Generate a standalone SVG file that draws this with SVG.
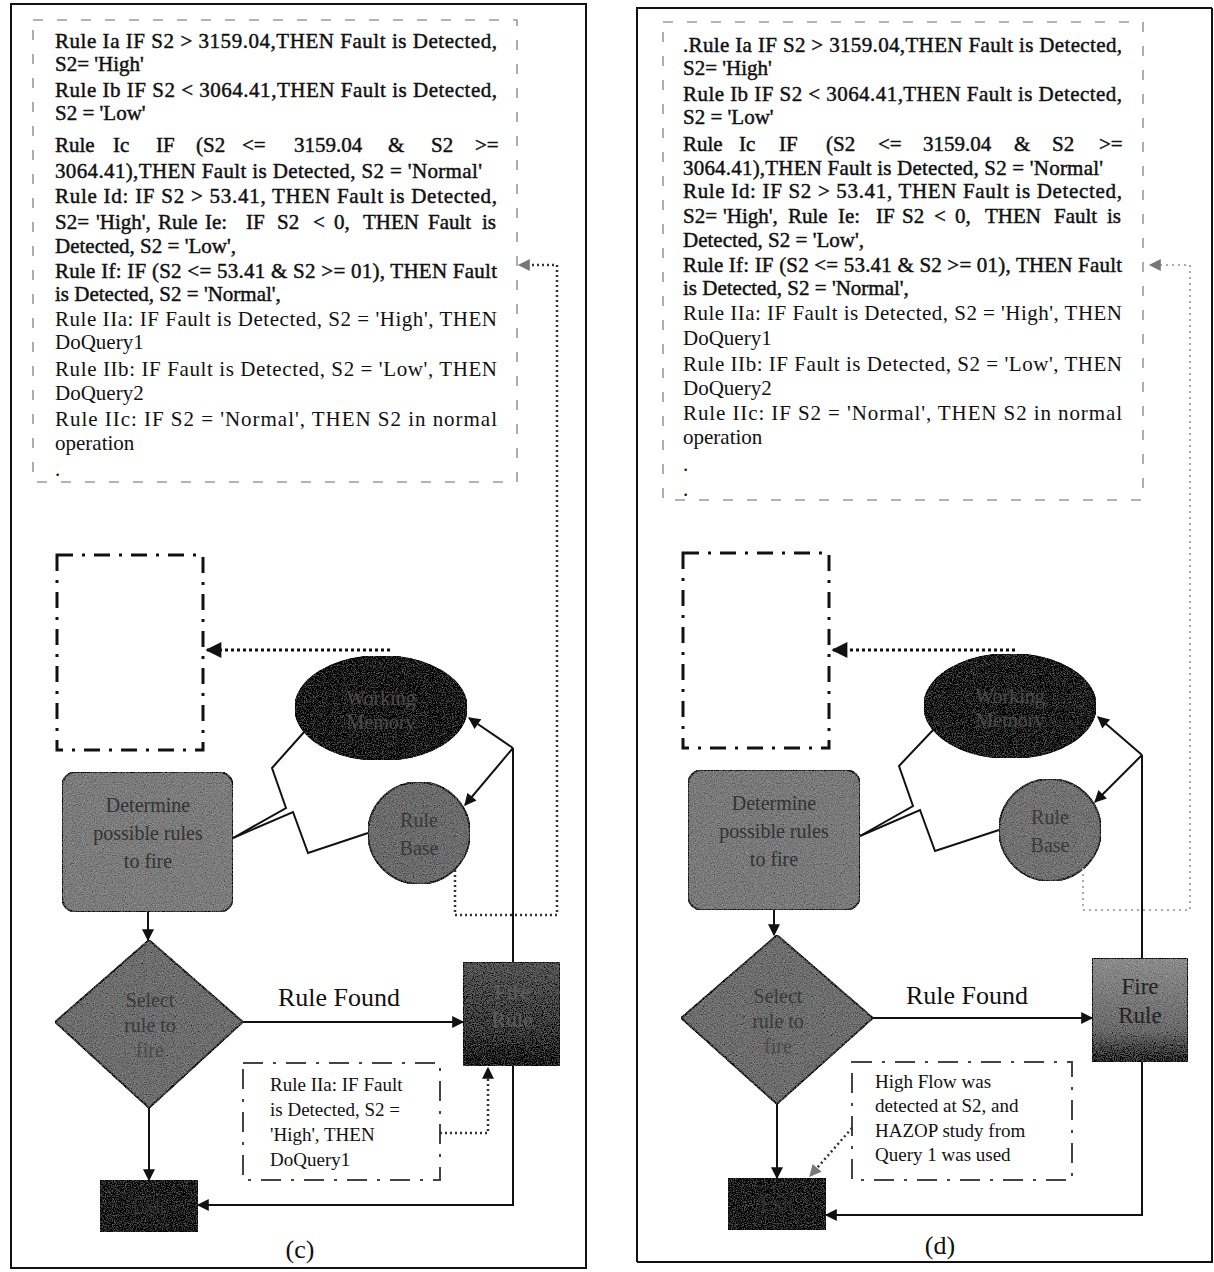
<svg xmlns="http://www.w3.org/2000/svg" width="1214" height="1272" viewBox="0 0 1214 1272">
<style>
.bg{fill:#ffffff}
.frame{fill:none;stroke:#111;stroke-width:2}
.tbox{fill:none;stroke:#9a9a9a;stroke-width:1.6;stroke-dasharray:10 14}
.rt{font-family:"Liberation Serif","Times New Roman",serif;font-size:21px;fill:#111}
.b{stroke:#111;stroke-width:0.45}
.ddbox{fill:none;stroke:#111;stroke-width:3;stroke-dasharray:16 9 3 9}
.cbox{fill:none;stroke:#444;stroke-width:2;stroke-dasharray:20 10 3 10}
.ct{font-family:"Liberation Serif","Times New Roman",serif;font-size:19px;fill:#111}
.lbl{font-family:"Liberation Serif","Times New Roman",serif;font-size:26px;fill:#111;text-anchor:middle}
.nt{font-family:"Liberation Serif","Times New Roman",serif;font-size:20px;text-anchor:middle}
.ln{fill:none;stroke:#111;stroke-width:2}
.dot{fill:none;stroke:#111;stroke-width:3;stroke-dasharray:3 3}
.dotg{fill:none;stroke:#333;stroke-width:2.5;stroke-dasharray:2 3}
.dotl{fill:none;stroke:#aaa;stroke-width:2;stroke-dasharray:2 4}
</style>
<defs>
<marker id="ah" viewBox="0 0 10 10" refX="9" refY="5" markerWidth="14" markerHeight="12" markerUnits="userSpaceOnUse" orient="auto"><path d="M0,0 L10,5 L0,10 z" fill="#111"/></marker>
<marker id="ahb" viewBox="0 0 10 10" refX="9" refY="5" markerWidth="20" markerHeight="16" markerUnits="userSpaceOnUse" orient="auto"><path d="M0,0 L10,5 L0,10 z" fill="#111"/></marker>
<marker id="ahg" viewBox="0 0 10 10" refX="9" refY="5" markerWidth="14" markerHeight="12" markerUnits="userSpaceOnUse" orient="auto"><path d="M0,0 L10,5 L0,10 z" fill="#777"/></marker>
<linearGradient id="fireC" x1="0" y1="0" x2="0" y2="1"><stop offset="0" stop-color="#555"/><stop offset="0.7" stop-color="#3a3a3a"/><stop offset="1" stop-color="#151515"/></linearGradient>
<linearGradient id="fireD" x1="0" y1="0" x2="0" y2="1"><stop offset="0" stop-color="#8c8c8c"/><stop offset="0.7" stop-color="#6a6a6a"/><stop offset="1" stop-color="#2a2a2a"/></linearGradient>
<filter id="grain" x="0" y="0" width="100%" height="100%">
<feTurbulence type="fractalNoise" baseFrequency="0.9" numOctaves="2" seed="4" result="n"/>
<feColorMatrix in="n" type="matrix" values="0.33 0.33 0.33 0 0 0.33 0.33 0.33 0 0 0.33 0.33 0.33 0 0 0 0 0 0 1" result="g"/>
<feComposite in="SourceGraphic" in2="g" operator="arithmetic" k1="0" k2="1" k3="0.6" k4="-0.3" result="m"/>
<feComposite in="m" in2="SourceAlpha" operator="in"/>
</filter>
</defs>
<rect class="bg" x="0" y="0" width="1214" height="1272"/>

<g id="frames">
<rect class="frame" x="11" y="4" width="575" height="1264"/>
<path class="frame" d="M637,1262 L637,8 L1212,8 M637,1262 L1212,1262 L1212,8"/>
</g>

<!-- ===== Panel (c) ===== -->
<g id="rules-c">
<rect class="tbox" x="33" y="20" width="484" height="462"/>
<text class="rt b" x="55" y="48" textLength="442" lengthAdjust="spacing">Rule Ia IF S2 &gt; 3159.04,THEN Fault is Detected,</text>
<text class="rt b" x="55" y="71">S2= 'High'</text>
<text class="rt b" x="55" y="97" textLength="442" lengthAdjust="spacing">Rule Ib IF S2 &lt; 3064.41,THEN Fault is Detected,</text>
<text class="rt b" x="55" y="120">S2 = 'Low'</text>
<text class="rt b"><tspan x="55" y="152">Rule</tspan><tspan x="113" y="152">Ic</tspan><tspan x="156" y="152">IF</tspan><tspan x="196" y="152">(S2</tspan><tspan x="242" y="152">&lt;=</tspan><tspan x="294" y="152">3159.04</tspan><tspan x="388" y="152">&amp;</tspan><tspan x="431" y="152">S2</tspan><tspan x="475" y="152">&gt;=</tspan></text>
<text class="rt b" x="55" y="178" textLength="427" lengthAdjust="spacing">3064.41),THEN Fault is Detected, S2 = 'Normal'</text>
<text class="rt b" x="55" y="203" textLength="442" lengthAdjust="spacing">Rule Id:  IF S2 &gt; 53.41, THEN Fault is Detected,</text>
<text class="rt b"><tspan x="55" y="229">S2=</tspan><tspan x="96" y="229">'High',</tspan><tspan x="158" y="229">Rule</tspan><tspan x="205" y="229">Ie:</tspan><tspan x="246" y="229">IF</tspan><tspan x="277" y="229">S2</tspan><tspan x="313" y="229">&lt;</tspan><tspan x="334" y="229">0,</tspan><tspan x="363" y="229">THEN</tspan><tspan x="428" y="229">Fault</tspan><tspan x="482" y="229">is</tspan></text>
<text class="rt b" x="55" y="253">Detected, S2 = 'Low',</text>
<text class="rt b" x="55" y="278" textLength="442" lengthAdjust="spacing">Rule If: IF (S2 &lt;= 53.41 &amp; S2 &gt;= 01), THEN Fault</text>
<text class="rt b" x="55" y="301">is Detected, S2 = 'Normal',</text>
<text class="rt" x="55" y="326" textLength="442" lengthAdjust="spacing">Rule IIa: IF Fault is Detected, S2 = 'High', THEN</text>
<text class="rt" x="55" y="349">DoQuery1</text>
<text class="rt" x="55" y="376" textLength="442" lengthAdjust="spacing">Rule IIb: IF Fault is Detected, S2 = 'Low', THEN</text>
<text class="rt" x="55" y="400">DoQuery2</text>
<text class="rt" x="55" y="426" textLength="442" lengthAdjust="spacing">Rule IIc: IF S2  = 'Normal', THEN S2 in normal</text>
<text class="rt" x="55" y="450">operation</text>
<text class="rt" x="55" y="476">.</text>
</g>

<g id="memory-box-c"><rect class="ddbox" x="57" y="555" width="146" height="195"/></g>

<g id="working-memory-c">
<ellipse cx="381" cy="708" rx="86" ry="52" fill="#161616" stroke="#000" stroke-width="2" filter="url(#grain)"/>
<text class="nt" x="381" y="705" fill="#4a4a4a">Working</text>
<text class="nt" x="381" y="729" fill="#4a4a4a">Memory</text>
</g>

<g id="rule-base-c">
<circle cx="419" cy="833" r="51" fill="#6c6c6c" stroke="#333" stroke-width="2" filter="url(#grain)"/>
<text class="nt" x="419" y="827" fill="#3a3a3a">Rule</text>
<text class="nt" x="419" y="855" fill="#3a3a3a">Base</text>
</g>

<g id="determine-c">
<rect x="62" y="772" width="171" height="140" rx="14" fill="#7c7c7c" stroke="#333" stroke-width="2" filter="url(#grain)"/>
<text class="nt" x="148" y="812" fill="#333">Determine</text>
<text class="nt" x="148" y="840" fill="#333">possible rules</text>
<text class="nt" x="148" y="868" fill="#333">to fire</text>
</g>

<g id="select-c">
<path d="M149,940 L243,1022 L149,1108 L55,1022 Z" fill="#6e6e6e" stroke="#333" stroke-width="2" filter="url(#grain)"/>
<text class="nt" x="150" y="1007" fill="#3a3a3a">Select</text>
<text class="nt" x="150" y="1032" fill="#3a3a3a">rule to</text>
<text class="nt" x="150" y="1057" fill="#4a4a4a">fire</text>
</g>

<g id="fire-c">
<rect x="463" y="962" width="97" height="104" fill="url(#fireC)" stroke="#222" stroke-width="2" filter="url(#grain)"/>
<text class="nt" x="512" y="999" fill="#5c5c5c" style="font-size:22px">Fire</text>
<text class="nt" x="512" y="1027" fill="#5c5c5c" style="font-size:22px">Rule</text>
</g>

<g id="exit-c">
<rect x="100" y="1180" width="98" height="52" fill="#1e1e1e" stroke="#111" stroke-width="2" filter="url(#grain)"/>
<text class="nt" x="149" y="1213" fill="#333">Exit</text>
</g>

<g id="callout-c">
<rect class="cbox" x="243" y="1063" width="197" height="117"/>
<text class="ct" x="270" y="1091">Rule IIa: IF Fault</text>
<text class="ct" x="270" y="1116">is Detected, S2 =</text>
<text class="ct" x="270" y="1141">'High', THEN</text>
<text class="ct" x="270" y="1166">DoQuery1</text>
</g>

<text class="lbl" x="339" y="1006">Rule Found</text>
<text class="lbl" x="300" y="1258">(c)</text>

<g id="connectors-c">
<line class="dot" x1="390" y1="650" x2="207" y2="650" marker-end="url(#ahb)"/>
<path class="ln" d="M233,838 L286,808 L272,768 L305,731"/>
<path class="ln" d="M233,838 L293,812 L308,853 L368,833"/>
<path class="ln" d="M513,962 L513,748"/>
<path class="ln" d="M513,748 L469,718" marker-end="url(#ah)"/>
<path class="ln" d="M513,748 L465,805" marker-end="url(#ah)"/>
<path class="ln" d="M148,912 L148,940" marker-end="url(#ah)"/>
<path class="ln" d="M243,1022 L463,1022" marker-end="url(#ah)"/>
<path class="ln" d="M149,1108 L149,1180" marker-end="url(#ah)"/>
<path class="ln" d="M513,1066 L513,1205 L198,1205" marker-end="url(#ah)"/>
<path class="dotg" d="M440,1133 L488,1133 L488,1068" marker-end="url(#ah)"/>
<path class="dotg" d="M455,870 L455,915 L557,915 L557,265 L519,265" marker-end="url(#ahg)"/>
</g>

<!-- ===== Panel (d) ===== -->
<g id="rules-d">
<rect class="tbox" x="663" y="22" width="480" height="478"/>
<text class="rt b" x="683" y="52" textLength="439" lengthAdjust="spacing">.Rule Ia IF S2 &gt; 3159.04,THEN Fault is Detected,</text>
<text class="rt b" x="683" y="75">S2= 'High'</text>
<text class="rt b" x="683" y="101" textLength="439" lengthAdjust="spacing">Rule Ib IF S2 &lt; 3064.41,THEN Fault is Detected,</text>
<text class="rt b" x="683" y="124">S2 = 'Low'</text>
<text class="rt b"><tspan x="683" y="151">Rule</tspan><tspan x="739" y="151">Ic</tspan><tspan x="779" y="151">IF</tspan><tspan x="826" y="151">(S2</tspan><tspan x="878" y="151">&lt;=</tspan><tspan x="923" y="151">3159.04</tspan><tspan x="1014" y="151">&amp;</tspan><tspan x="1052" y="151">S2</tspan><tspan x="1099" y="151">&gt;=</tspan></text>
<text class="rt b" x="683" y="175" textLength="420" lengthAdjust="spacing">3064.41),THEN Fault is Detected, S2 = 'Normal'</text>
<text class="rt b" x="683" y="198" textLength="439" lengthAdjust="spacing">Rule Id:  IF S2 &gt; 53.41, THEN Fault is Detected,</text>
<text class="rt b"><tspan x="683" y="223">S2=</tspan><tspan x="723" y="223">'High',</tspan><tspan x="788" y="223">Rule</tspan><tspan x="838" y="223">Ie:</tspan><tspan x="876" y="223">IF</tspan><tspan x="902" y="223">S2</tspan><tspan x="934" y="223">&lt;</tspan><tspan x="955" y="223">0,</tspan><tspan x="985" y="223">THEN</tspan><tspan x="1054" y="223">Fault</tspan><tspan x="1107" y="223">is</tspan></text>
<text class="rt b" x="683" y="247">Detected, S2 = 'Low',</text>
<text class="rt b" x="683" y="272" textLength="439" lengthAdjust="spacing">Rule If: IF (S2 &lt;= 53.41 &amp; S2 &gt;= 01), THEN Fault</text>
<text class="rt b" x="683" y="295">is Detected, S2 = 'Normal',</text>
<text class="rt" x="683" y="320" textLength="439" lengthAdjust="spacing">Rule IIa: IF Fault is Detected, S2 = 'High', THEN</text>
<text class="rt" x="683" y="345">DoQuery1</text>
<text class="rt" x="683" y="371" textLength="439" lengthAdjust="spacing">Rule IIb: IF Fault is Detected, S2 = 'Low', THEN</text>
<text class="rt" x="683" y="395">DoQuery2</text>
<text class="rt" x="683" y="420" textLength="439" lengthAdjust="spacing">Rule IIc: IF S2  = 'Normal', THEN S2 in normal</text>
<text class="rt" x="683" y="444">operation</text>
<text class="rt" x="683" y="471">.</text>
<text class="rt" x="683" y="496">.</text>
</g>

<g id="memory-box-d"><rect class="ddbox" x="683" y="553" width="146" height="195"/></g>

<g id="working-memory-d">
<ellipse cx="1010" cy="706" rx="86" ry="52" fill="#1c1c1c" stroke="#000" stroke-width="2" filter="url(#grain)"/>
<text class="nt" x="1010" y="703" fill="#4a4a4a">Working</text>
<text class="nt" x="1010" y="727" fill="#4a4a4a">Memory</text>
</g>

<g id="rule-base-d">
<circle cx="1050" cy="830" r="51" fill="#727272" stroke="#333" stroke-width="2" filter="url(#grain)"/>
<text class="nt" x="1050" y="824" fill="#3a3a3a">Rule</text>
<text class="nt" x="1050" y="852" fill="#3a3a3a">Base</text>
</g>

<g id="determine-d">
<rect x="688" y="770" width="172" height="140" rx="14" fill="#7a7a7a" stroke="#333" stroke-width="2" filter="url(#grain)"/>
<text class="nt" x="774" y="810" fill="#333">Determine</text>
<text class="nt" x="774" y="838" fill="#333">possible rules</text>
<text class="nt" x="774" y="866" fill="#333">to fire</text>
</g>

<g id="select-d">
<path d="M777,935 L873,1018 L777,1104 L681,1018 Z" fill="#6e6e6e" stroke="#333" stroke-width="2" filter="url(#grain)"/>
<text class="nt" x="778" y="1003" fill="#3a3a3a">Select</text>
<text class="nt" x="778" y="1028" fill="#3a3a3a">rule to</text>
<text class="nt" x="778" y="1053" fill="#4a4a4a">fire</text>
</g>

<g id="fire-d">
<rect x="1092" y="958" width="96" height="104" fill="url(#fireD)" stroke="#222" stroke-width="2" filter="url(#grain)"/>
<text class="nt" x="1140" y="994" fill="#222" style="font-size:23px">Fire</text>
<text class="nt" x="1140" y="1023" fill="#222" style="font-size:23px">Rule</text>
</g>

<g id="exit-d">
<rect x="728" y="1178" width="98" height="52" fill="#1e1e1e" stroke="#111" stroke-width="2" filter="url(#grain)"/>
<text class="nt" x="777" y="1211" fill="#333">Exit</text>
</g>

<g id="callout-d">
<rect class="cbox" x="852" y="1062" width="220" height="118"/>
<text class="ct" x="875" y="1088">High Flow was</text>
<text class="ct" x="875" y="1112">detected at S2, and</text>
<text class="ct" x="875" y="1137">HAZOP study from</text>
<text class="ct" x="875" y="1161">Query 1 was used</text>
</g>

<text class="lbl" x="967" y="1004">Rule Found</text>
<text class="lbl" x="940" y="1254">(d)</text>

<g id="connectors-d">
<line class="dot" x1="1015" y1="650" x2="833" y2="650" marker-end="url(#ahb)"/>
<path class="ln" d="M860,836 L913,806 L899,766 L934,729"/>
<path class="ln" d="M860,836 L920,810 L935,851 L999,830"/>
<path class="ln" d="M1142,958 L1142,755"/>
<path class="ln" d="M1142,755 L1098,717" marker-end="url(#ah)"/>
<path class="ln" d="M1142,755 L1095,802" marker-end="url(#ah)"/>
<path class="ln" d="M774,910 L774,935" marker-end="url(#ah)"/>
<path class="ln" d="M873,1018 L1092,1018" marker-end="url(#ah)"/>
<path class="ln" d="M777,1104 L777,1178" marker-end="url(#ah)"/>
<path class="ln" d="M1142,1062 L1142,1215 L826,1215" marker-end="url(#ah)"/>
<path class="dotg" d="M852,1128 L810,1176" marker-end="url(#ahg)"/>
<path class="dotl" d="M1083,868 L1083,910 L1190,910 L1190,265 L1150,265" marker-end="url(#ahg)"/>
</g>
</svg>
